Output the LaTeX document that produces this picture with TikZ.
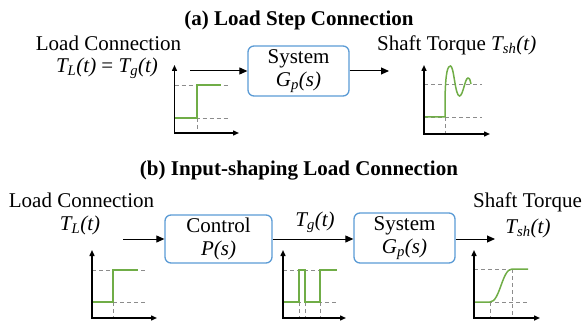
\documentclass[tikz,border=0pt]{standalone}
\usepackage{fontspec}
\setmainfont{Liberation Serif}
\usetikzlibrary{arrows.meta}
\definecolor{boxblue}{HTML}{5B9BD5}
\definecolor{plotgreen}{HTML}{70AD47}
\definecolor{dashgray}{HTML}{8C8C8C}
\newcommand\mysub[1]{\textsubscript{#1}}
\begin{document}
\begin{tikzpicture}[x=1pt,y=-1pt,
  txt/.style={inner sep=0pt, font=\fontsize{21}{25}\selectfont},
  ttl/.style={inner sep=0pt, font=\fontsize{21}{25}\selectfont\bfseries},
  blk/.style={draw=boxblue, line width=1.3pt, rounded corners=6pt, align=center,
    font=\fontsize{21}{23}\selectfont, inner sep=0pt},
  sig/.style={-{Triangle[length=8pt,width=7pt]}, line width=1pt},
  axis/.style={{Triangle[length=6pt,width=5pt]}-{Triangle[length=6pt,width=5pt]}, line width=1.4pt},
  ref/.style={dashgray, dash pattern=on 4pt off 3pt, line width=0.9pt},
  resp/.style={plotgreen, line width=1.5pt}]
\useasboundingbox (0,0) rectangle (585,323);

% ---------- (a) ----------
\node[ttl] (ta) at (299,20) {(a) Load Step Connection};
\node[txt] (lca) at (108.5,43) {Load Connection};
\node[txt] (tla) at (107,68) {\textit{T\mysub{L}(t)} = \textit{T\mysub{g}(t)}};
\node[blk, minimum width=101pt, minimum height=50pt] (sysa) at (298.5,71) {System\\\textit{G\mysub{p}(s)}};
\node[txt, anchor=west] (sta) at (377,45) {Shaft Torque \textit{T\mysub{sh}(t)}};
\coordinate (ina) at (190,71);
\coordinate (outa) at (389,71);
\draw[sig] (ina) -- (sysa.west);
\draw[sig] (sysa.east) -- (outa);

% plot a-left
\draw[ref] (174.5,85) -- (228,85);
\draw[ref] (174.5,118) -- (228,118);
\draw[ref] (197,118) -- (197,133);
\draw[resp] (174.5,118) -- (197,118) -- (197,85) -- (221,85);
\draw[axis] (174.5,65) -- (174.5,133) -- (239,133);

% plot a-right
\draw[ref] (424,84) -- (482,84);
\draw[ref] (424,117) -- (482,117);
\draw[ref] (445,117) -- (445,134);
\draw[resp] (424,117) -- (445,117) -- (445,100)
  .. controls (445.5,70) and (448,66) .. (450.5,66)
  .. controls (454,66) and (455,96) .. (459.5,96)
  .. controls (463,96) and (465,78) .. (468,78)
  .. controls (470,78) and (470.5,82) .. (471,84);
\draw[axis] (424,65) -- (424,134) -- (490,134);

% ---------- (b) ----------
\node[ttl] (tb) at (299,171) {(b) Input-shaping Load Connection};
\node[txt] (lcb) at (81.5,200) {Load Connection};
\node[txt] (tlb) at (80,225) {\textit{T\mysub{L}(t)}};
\node[blk, minimum width=107pt, minimum height=48pt] (ctl) at (218.5,239) {Control\\\textit{P(s)}};
\node[blk, minimum width=101pt, minimum height=50pt] (sysb) at (404.5,238) {System\\\textit{G\mysub{p}(s)}};
\node[txt] (tgb) at (315,222) {\textit{T\mysub{g}(t)}};
\node[txt, anchor=west] (stb) at (473,202) {Shaft Torque};
\node[txt] (tshb) at (528,228) {\textit{T\mysub{sh}(t)}};
\coordinate (inb) at (123,239);
\coordinate (outb) at (495,239);
\draw[sig] (inb) -- (ctl.west);
\draw[sig] (ctl.east) -- (ctl.east -| sysb.west);
\draw[sig] (sysb.east |- outb) -- (outb);

% plot b-left
\draw[ref] (92,270) -- (145,270);
\draw[ref] (92,302) -- (145,302);
\draw[ref] (113,302) -- (113,318);
\draw[resp] (92,302) -- (113,302) -- (113,270) -- (138,270);
\draw[axis] (92,250) -- (92,318) -- (157,318);

% plot b-mid
\draw[ref] (283,270) -- (337,270);
\draw[ref] (283,302) -- (337,302);
\draw[ref] (299,302) -- (299,318);
\draw[ref] (305,302) -- (305,318);
\draw[ref] (320,302) -- (320,318);
\draw[resp] (283,302) -- (299,302) -- (299,270) -- (305,270) -- (305,302) -- (320,302) -- (320,270) -- (337,270);
\draw[axis] (283,250) -- (283,318) -- (346,318);

% plot b-right
\draw[ref] (474,269) -- (528,269);
\draw[ref] (474,302) -- (528,302);
\draw[ref] (490,302) -- (490,318);
\draw[ref] (512,269) -- (512,318);
\draw[resp] (474,302) -- (490,302) .. controls (500,302) and (502,269) .. (512,269) -- (528,269);
\draw[axis] (474,250) -- (474,318) -- (540,318);
\end{tikzpicture}
\end{document}
